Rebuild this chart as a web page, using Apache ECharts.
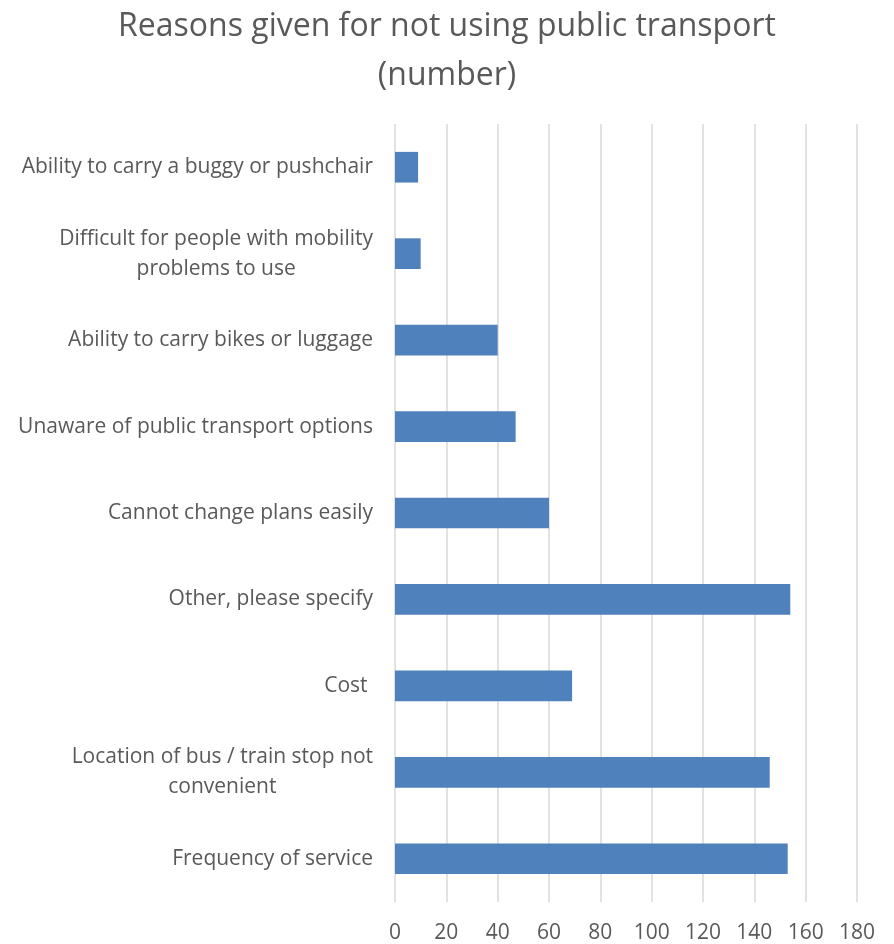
<!DOCTYPE html>
<html>
<head>
<meta charset="utf-8">
<script src="https://cdn.jsdelivr.net/npm/echarts@6/dist/echarts.min.js"></script>
<style>
  html, body { margin: 0; padding: 0; background: #ffffff; }
  #chart { width: 894px; height: 944px; }
</style>
</head>
<body>
<div id="chart"></div>
<script>
// Reasons, listed bottom-to-top as they sit on the category axis
const reasons = [
  'Frequency of service',
  'Location of bus / train stop not\nconvenient',
  'Cost ',
  'Other, please specify',
  'Cannot change plans easily',
  'Unaware of public transport options',
  'Ability to carry bikes or luggage',
  'Difficult for people with mobility\nproblems to use',
  'Ability to carry a buggy or pushchair'
];
const counts = [153, 146, 69, 154, 60, 47, 40, 10, 9];

const axisMin = 0;
const axisMax = 180;
const axisStep = 20;

const FONT = 'Open Sans';
const TEXT = '#595959';

const chart = echarts.init(document.getElementById('chart'), null, { renderer: 'canvas' });
chart.setOption({
  animation: false,
  backgroundColor: '#ffffff',
  title: {
    text: 'Reasons given for not using public transport\n(number)',
    left: 'center',
    top: -3,
    textStyle: {
      fontFamily: FONT,
      fontWeight: 'normal',
      fontSize: 32,
      lineHeight: 49,
      color: TEXT
    }
  },
  grid: { left: 395, right: 37, top: 124, bottom: 42, containLabel: false },
  xAxis: {
    type: 'value',
    min: axisMin,
    max: axisMax,
    interval: axisStep,
    axisLine: { show: false },
    axisTick: { show: false },
    axisLabel: {
      margin: 21,
      fontFamily: FONT,
      fontSize: 21,
      color: TEXT
    },
    splitLine: { show: true, lineStyle: { color: '#d9d9d9', width: 1.5 } }
  },
  yAxis: {
    type: 'category',
    data: reasons,
    axisLine: { show: false },
    axisTick: { show: false },
    axisLabel: {
      margin: 22,
      fontFamily: FONT,
      fontSize: 21,
      color: TEXT,
      align: 'right',
      formatter: function (v) {
        return v.split('\n').map(function (line) { return '{c|' + line + '}'; }).join('\n');
      },
      rich: {
        c: {
          align: 'center',
          fontFamily: FONT,
          fontSize: 21,
          lineHeight: 30,
          color: TEXT
        }
      }
    }
  },
  series: [{
    type: 'bar',
    data: counts,
    barWidth: '35.5%',
    itemStyle: { color: '#4f81bd' }
  }]
});
</script>
</body>
</html>
